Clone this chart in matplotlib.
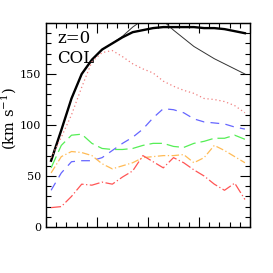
import matplotlib
matplotlib.use('Agg')
import matplotlib.pyplot as plt
import numpy as np
from matplotlib.ticker import MultipleLocator, FuncFormatter

plt.rcParams['mathtext.fontset'] = 'dejavuserif'

# bin centres (arbitrary units, 20 bins)
x = np.arange(20) + 0.5

total = [65, 95, 126, 150, 164, 174, 180, 186, 191, 193,
         195, 196, 196, 196, 196, 195, 195, 194, 192, 190]
total_thin = [65, 95, 126, 150, 164, 174, 180, 187, 196, 203,
              206, 202, 193, 185, 177, 171, 165, 160, 155, 150]
dotted = [68, 88, 110, 137, 162, 171, 173, 167, 160, 155,
          151, 143, 138, 134, 131, 126, 125, 123, 119, 112]
blue = [36, 53, 64, 65, 65, 68, 75, 82, 88, 96,
        107, 116, 115, 112, 106, 103, 102, 101, 98, 96]
green = [58, 80, 90, 91, 82, 77, 76, 76, 77, 80,
         82, 82, 79, 78, 82, 84, 87, 87, 90, 86]
orange = [53, 69, 74, 73, 70, 62, 57, 60, 63, 68,
          69, 70, 70, 71, 63, 68, 80, 75, 69, 63]
red = [19, 20, 30, 42, 41, 44, 42, 49, 55, 70,
       64, 58, 68, 63, 56, 50, 42, 36, 43, 27]

fig = plt.figure(figsize=(2.73, 2.73), dpi=100)
ax = fig.add_axes([46/273, 46/273, 204/273, 204/273])

ax.plot(x, total_thin, color='#333333', lw=0.7)
ax.plot(x, total, color='black', lw=1.7)
ax.plot(x, dotted, color='#f08080', lw=0.9, linestyle=(0, (1, 2.2)))
ax.plot(x, blue, color='#6666ff', lw=0.9, linestyle=(0, (7, 5)))
ax.plot(x, green, color='#55ee55', lw=0.9, linestyle=(0, (10, 4)))
ax.plot(x, orange, color='#ffbb55', lw=0.9, linestyle=(0, (6, 2, 1, 2)))
ax.plot(x, red, color='#ff5555', lw=0.9, linestyle=(0, (8, 2, 1, 2)))

ax.set_xlim(0, 20)
ax.set_ylim(0, 200)
ax.xaxis.set_major_locator(MultipleLocator(5))
ax.xaxis.set_minor_locator(MultipleLocator(1))
ax.yaxis.set_major_locator(MultipleLocator(50))
ax.yaxis.set_minor_locator(MultipleLocator(10))
ax.yaxis.set_major_formatter(FuncFormatter(lambda v, p: '' if v >= 200 else '%d' % v))
ax.tick_params(which='both', direction='in', top=True, right=True, width=0.8)
ax.tick_params(which='major', length=7)
ax.tick_params(which='minor', length=3.5)
ax.set_xticklabels([])
for lab in ax.get_yticklabels():
    lab.set_family('DejaVu Serif')
    lab.set_fontsize(8)
for s in ax.spines.values():
    s.set_linewidth(1.0)

ax.text(0.055, 0.925, 'z=0', transform=ax.transAxes, family='DejaVu Serif',
        fontsize=12, va='center', ha='left')
ax.text(0.055, 0.825, 'COL', transform=ax.transAxes, family='DejaVu Serif',
        fontsize=12, va='center', ha='left')

fig.text(9/273, 1 - 119/273, r'(km s$^{-1}$)', rotation=90, family='DejaVu Serif',
         fontsize=10.5, ha='center', va='center')

fig.savefig('out.png', dpi=100)
